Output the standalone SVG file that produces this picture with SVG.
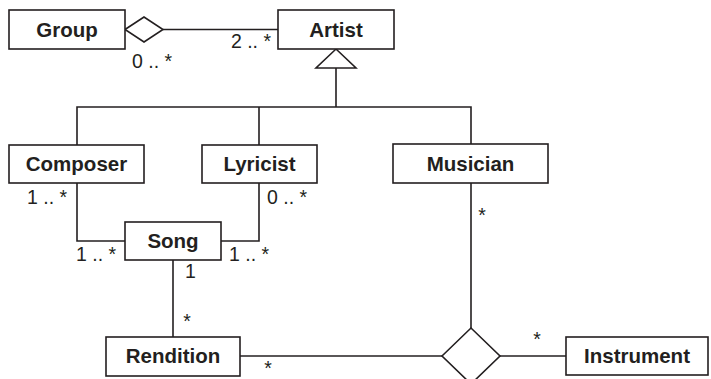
<svg xmlns="http://www.w3.org/2000/svg" width="711" height="379" viewBox="0 0 711 379">
<style>
.box{fill:#fff;stroke:#231f20;stroke-width:1.6}
.name{font-family:"Liberation Sans",Arial,sans-serif;font-weight:bold;font-size:20.5px;fill:#231f20;text-anchor:middle}
.lbl{font-family:"Liberation Sans",Arial,sans-serif;font-size:19.5px;fill:#231f20}
.ln{fill:none;stroke:#231f20;stroke-width:1.6}
</style>
<rect width="711" height="379" fill="#fff"/>
<g id="connectors">
<path class="ln" d="M163 29.5 H278"/>
<polygon class="ln" points="125,29.5 144,17 163,29.5 144,42" fill="#fff"/>
<polygon class="ln" points="336,49 356,68 316,68" fill="#fff"/>
<path class="ln" d="M336 68 V107 M77 145 V107 H471 V144 M259 107 V145"/>
<path class="ln" d="M77 183 V241 H125"/>
<path class="ln" d="M259 183 V241 H221"/>
<path class="ln" d="M173 260 V337"/>
<path class="ln" d="M240 356 H442"/>
<path class="ln" d="M471 183 V328"/>
<path class="ln" d="M500 356 H566"/>
<polygon class="ln" points="442,356 471,328 500,356 471,384" fill="#fff"/>
<text class="lbl" x="271" y="48" text-anchor="end">2 .. *</text>
<text class="lbl" x="132" y="68">0 .. *</text>
<text class="lbl" x="27" y="204">1 .. *</text>
<text class="lbl" x="267" y="204">0 .. *</text>
<text class="lbl" x="76" y="261">1 .. *</text>
<text class="lbl" x="229" y="261">1 .. *</text>
<text class="lbl" x="185" y="278">1</text>
<text class="lbl" x="187" y="328" text-anchor="middle">*</text>
<text class="lbl" x="268" y="375" text-anchor="middle">*</text>
<text class="lbl" x="482" y="222" text-anchor="middle">*</text>
<text class="lbl" x="537" y="346" text-anchor="middle">*</text>
</g>
<g id="group"><rect class="box" x="9" y="10" width="116" height="39"/><text class="name" x="67" y="37">Group</text></g>
<g id="artist"><rect class="box" x="278" y="10" width="116" height="39"/><text class="name" x="336" y="37">Artist</text></g>
<g id="composer"><rect class="box" x="9" y="145" width="135" height="38"/><text class="name" x="76.5" y="171">Composer</text></g>
<g id="lyricist"><rect class="box" x="202" y="145" width="115" height="38"/><text class="name" x="259.5" y="171">Lyricist</text></g>
<g id="musician"><rect class="box" x="393" y="144" width="155" height="39"/><text class="name" x="470.5" y="171">Musician</text></g>
<g id="song"><rect class="box" x="125" y="222" width="96" height="38"/><text class="name" x="173" y="248">Song</text></g>
<g id="rendition"><rect class="box" x="106" y="337" width="134" height="39"/><text class="name" x="173" y="363">Rendition</text></g>
<g id="instrument"><rect class="box" x="566" y="337" width="142" height="38"/><text class="name" x="637" y="363">Instrument</text></g>
</svg>
